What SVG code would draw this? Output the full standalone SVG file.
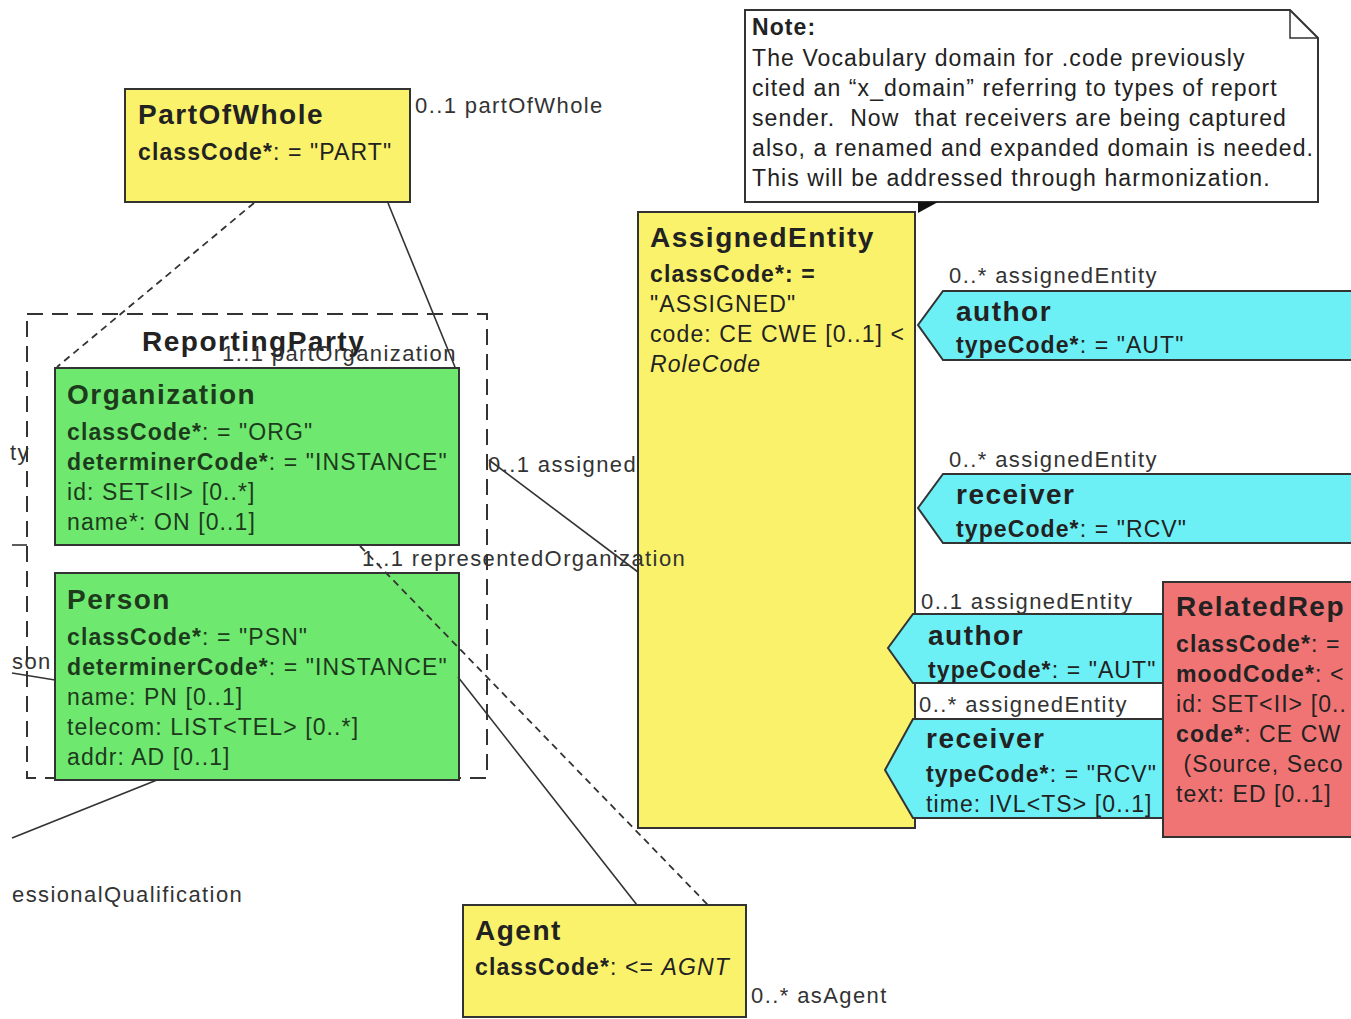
<svg xmlns="http://www.w3.org/2000/svg" width="1351" height="1019" viewBox="0 0 1351 1019">
<style>
  .box{stroke:#333;stroke-width:2}
  .yel{fill:#FAF26A}
  .grn{fill:#6FE86F}
  .cyn{fill:#6CF0F5}
  .red{fill:#F07474}
  .t{font-family:"Liberation Sans",Arial,sans-serif;font-size:23px;letter-spacing:1.1px;fill:#222;white-space:pre}
  .ttl{font-family:"Liberation Sans",Arial,sans-serif;font-size:28px;font-weight:bold;fill:#222;letter-spacing:1.5px}
  .b{font-weight:bold}
  .i{font-style:italic}
  .g{fill:#1d3a1d}
  .lbl{font-family:"Liberation Sans",Arial,sans-serif;font-size:22px;letter-spacing:1.4px;fill:#333}
  .ln{stroke:#333;stroke-width:1.6;fill:none}
  .dash{stroke:#333;stroke-width:1.8;fill:none;stroke-dasharray:7 5}
</style>
<rect width="1351" height="1019" fill="#fff"/>

<g id="ReportingParty">
  <rect x="27" y="314" width="460" height="464" fill="none" stroke="#333" stroke-width="2" stroke-dasharray="16 9"/>
  <text class="ttl" x="142" y="351">ReportingParty</text>
</g>

<g id="Organization">
  <rect class="box grn" x="55" y="368" width="404" height="177"/>
  <text class="ttl g" x="67" y="404">Organization</text>
  <text class="t g" x="67" y="440"><tspan class="b">classCode*</tspan>: = "ORG"</text>
  <text class="t g" x="67" y="470"><tspan class="b">determinerCode*</tspan>: = "INSTANCE"</text>
  <text class="t g" x="67" y="500">id: SET&lt;II&gt; [0..*]</text>
  <text class="t g" x="67" y="530">name*: ON [0..1]</text>
</g>

<g id="Person">
  <rect class="box grn" x="55" y="573" width="404" height="207"/>
  <text class="ttl g" x="67" y="609">Person</text>
  <text class="t g" x="67" y="645"><tspan class="b">classCode*</tspan>: = "PSN"</text>
  <text class="t g" x="67" y="675"><tspan class="b">determinerCode*</tspan>: = "INSTANCE"</text>
  <text class="t g" x="67" y="705">name: PN [0..1]</text>
  <text class="t g" x="67" y="735">telecom: LIST&lt;TEL&gt; [0..*]</text>
  <text class="t g" x="67" y="765">addr: AD [0..1]</text>
</g>

<g id="PartOfWhole">
  <rect class="box yel" x="125" y="89" width="285" height="113"/>
  <text class="ttl" x="138" y="124">PartOfWhole</text>
  <text class="t" x="138" y="160"><tspan class="b">classCode*</tspan>: = "PART"</text>
</g>

<g id="Agent">
  <rect class="box yel" x="463" y="905" width="283" height="112"/>
  <text class="ttl" x="475" y="940">Agent</text>
  <text class="t" x="475" y="975"><tspan class="b">classCode*</tspan>: &lt;= <tspan class="i">AGNT</tspan></text>
</g>

<g id="Note">
  <path d="M745,10 H1290 L1318,38 V202 H745 Z" fill="#fff" stroke="#333" stroke-width="2"/>
  <path d="M1290,10 V38 H1318" fill="none" stroke="#333" stroke-width="1.5"/>
  <text class="t b" x="752" y="35">Note:</text>
  <text class="t" x="752" y="66">The Vocabulary domain for .code previously</text>
  <text class="t" x="752" y="96">cited an “x_domain” referring to types of report</text>
  <text class="t" x="752" y="126">sender.  Now  that receivers are being captured</text>
  <text class="t" x="752" y="156">also, a renamed and expanded domain is needed.</text>
  <text class="t" x="752" y="186">This will be addressed through harmonization.</text>
</g>

<g id="AssignedEntity">
  <rect class="box yel" x="638" y="212" width="277" height="616"/>
  <text class="ttl" x="650" y="247">AssignedEntity</text>
  <text class="t b" x="650" y="282">classCode*: =</text>
  <text class="t" x="650" y="312">"ASSIGNED"</text>
  <text class="t" x="650" y="342">code: CE CWE [0..1] &lt;</text>
  <text class="t i" x="650" y="372">RoleCode</text>
</g>

<g id="author1">
  <path class="box cyn" d="M1355,291 H943 L918,325 L943,360 H1355"/>
  <text class="ttl" x="956" y="321">author</text>
  <text class="t" x="956" y="353"><tspan class="b">typeCode*</tspan>: = "AUT"</text>
</g>

<g id="receiver1">
  <path class="box cyn" d="M1355,474 H943 L918,508 L943,543 H1355"/>
  <text class="ttl" x="956" y="504">receiver</text>
  <text class="t" x="956" y="537"><tspan class="b">typeCode*</tspan>: = "RCV"</text>
</g>

<g id="author2">
  <path class="box cyn" d="M1163,614 H913 L888,648 L913,683 H1163 Z"/>
  <text class="ttl" x="928" y="645">author</text>
  <text class="t" x="928" y="678"><tspan class="b">typeCode*</tspan>: = "AUT"</text>
</g>

<g id="receiver2">
  <path class="box cyn" d="M1163,719 H913 L885,770 L913,818 H1163 Z"/>
  <text class="ttl" x="926" y="748">receiver</text>
  <text class="t" x="926" y="782"><tspan class="b">typeCode*</tspan>: = "RCV"</text>
  <text class="t" x="926" y="812">time: IVL&lt;TS&gt; [0..1]</text>
</g>

<g id="RelatedReport">
  <rect class="box red" x="1163" y="582" width="200" height="255"/>
  <text class="ttl" x="1176" y="616">RelatedRep</text>
  <text class="t" x="1176" y="652"><tspan class="b">classCode*</tspan>: =</text>
  <text class="t" x="1176" y="682"><tspan class="b">moodCode*</tspan>: &lt;</text>
  <text class="t" x="1176" y="712">id: SET&lt;II&gt; [0..</text>
  <text class="t" x="1176" y="742"><tspan class="b">code*</tspan>: CE CW</text>
  <text class="t" x="1176" y="772"> (Source, Seco</text>
  <text class="t" x="1176" y="802">text: ED [0..1]</text>
</g>

<g id="connectors">
  <line class="dash" x1="254" y1="203" x2="57" y2="367"/>
  <line class="ln" x1="388" y1="203" x2="455" y2="367"/>
  <line class="ln" x1="489" y1="460" x2="638" y2="572"/>
  <line class="dash" x1="360" y1="546" x2="708" y2="905"/>
  <line class="ln" x1="458" y1="677" x2="637" y2="905"/>
  <polygon points="918,202 938,202 918,213" fill="#111"/>
  <line class="ln" x1="12" y1="545" x2="27" y2="545"/>
  <line class="ln" x1="12" y1="673" x2="55" y2="680"/>
  <line class="ln" x1="157" y1="780" x2="12" y2="838"/>
  <text class="lbl" x="415" y="113">0..1 partOfWhole</text>
  <text class="lbl" x="222" y="361">1..1 partOrganization</text>
  <text class="lbl" x="488" y="472">0..1 assigned</text>
  <text class="lbl" x="362" y="566">1..1 representedOrganization</text>
  <text class="lbl" x="751" y="1003">0..* asAgent</text>
  <text class="lbl" x="949" y="283">0..* assignedEntity</text>
  <text class="lbl" x="949" y="467">0..* assignedEntity</text>
  <text class="lbl" x="921" y="609">0..1 assignedEntity</text>
  <text class="lbl" x="919" y="712">0..* assignedEntity</text>
  <text class="lbl" x="10" y="460">ty</text>
  <text class="lbl" x="12" y="669">son</text>
  <text class="lbl" x="12" y="902">essionalQualification</text>
</g>
</svg>
